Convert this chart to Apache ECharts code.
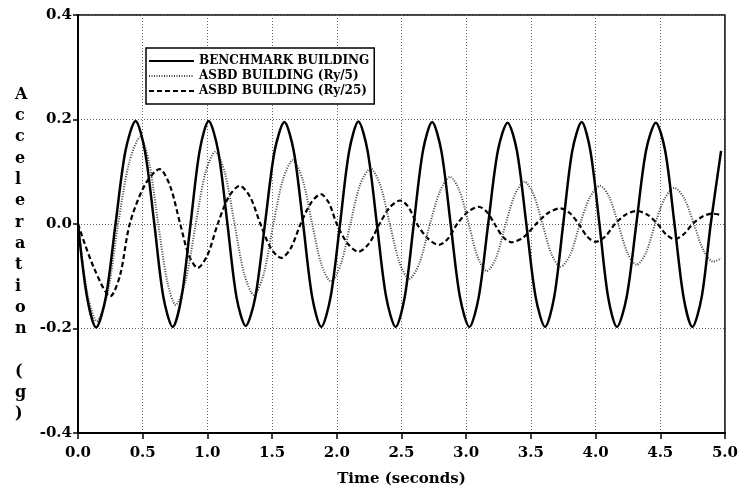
<!DOCTYPE html>
<html>
<head>
<meta charset="utf-8">
<script src="https://cdn.jsdelivr.net/npm/echarts@6/dist/echarts.min.js"></script>
<style>
html,body{margin:0;padding:0;background:#fff;}
#chart{width:741px;height:492px;}
</style>
</head>
<body>
<div id="chart"></div>
<script>
// ---- Data ----
var seriesNames = ['BENCHMARK BUILDING', 'ASBD BUILDING (Ry/5)', 'ASBD BUILDING (Ry/25)'];

var timeBench = [0, 0.07, 0.14, 0.215, 0.29, 0.367, 0.445, 0.517, 0.59, 0.66, 0.732, 0.80, 0.87, 0.94, 1.01, 1.083, 1.155, 1.225, 1.296, 1.37, 1.445, 1.52, 1.595, 1.667, 1.74, 1.81, 1.88, 1.952, 2.025, 2.096, 2.167, 2.238, 2.31, 2.382, 2.455, 2.525, 2.595, 2.666, 2.737, 2.808, 2.88, 2.952, 3.025, 3.097, 3.17, 3.245, 3.32, 3.392, 3.465, 3.537, 3.61, 3.68, 3.75, 3.82, 3.893, 3.96, 4.03, 4.097, 4.165, 4.24, 4.315, 4.39, 4.466, 4.538, 4.61, 4.68, 4.748, 4.82, 4.89, 4.97];
var accBench  = [0, -0.14, -0.198, -0.14, 0, 0.14, 0.197, 0.14, 0, -0.14, -0.197, -0.14, 0, 0.14, 0.197, 0.14, 0, -0.14, -0.195, -0.14, 0, 0.14, 0.195, 0.14, 0, -0.14, -0.197, -0.14, 0, 0.14, 0.196, 0.14, 0, -0.14, -0.197, -0.14, 0, 0.14, 0.195, 0.14, 0, -0.14, -0.197, -0.14, 0, 0.14, 0.194, 0.14, 0, -0.14, -0.197, -0.14, 0, 0.14, 0.195, 0.14, 0, -0.14, -0.197, -0.14, 0, 0.14, 0.194, 0.14, 0, -0.14, -0.197, -0.14, 0, 0.14];

var timeRy5 = [0, 0.07, 0.145, 0.23, 0.31, 0.395, 0.48, 0.55, 0.62, 0.69, 0.755, 0.83, 0.91, 0.985, 1.06, 1.135, 1.21, 1.285, 1.36, 1.435, 1.51, 1.585, 1.66, 1.735, 1.81, 1.882, 1.955, 2.03, 2.105, 2.18, 2.26, 2.335, 2.41, 2.485, 2.56, 2.64, 2.72, 2.8, 2.875, 2.948, 3.02, 3.09, 3.16, 3.232, 3.305, 3.378, 3.45, 3.52, 3.59, 3.66, 3.73, 3.805, 3.88, 3.958, 4.035, 4.105, 4.175, 4.246, 4.317, 4.39, 4.46, 4.535, 4.61, 4.685, 4.76, 4.835, 4.91, 4.97];
var accRy5  = [0, -0.13, -0.186, -0.13, 0, 0.117, 0.166, 0.117, 0, -0.11, -0.155, -0.11, 0, 0.098, 0.138, 0.098, 0, -0.096, -0.136, -0.096, 0, 0.086, 0.122, 0.086, 0, -0.078, -0.11, -0.078, 0, 0.075, 0.106, 0.075, 0, -0.074, -0.105, -0.074, 0, 0.064, 0.09, 0.064, 0, -0.064, -0.09, -0.064, 0, 0.057, 0.081, 0.057, 0, -0.058, -0.082, -0.058, 0, 0.052, 0.073, 0.052, 0, -0.055, -0.078, -0.055, 0, 0.049, 0.069, 0.049, 0, -0.051, -0.072, -0.066];

var timeRy25 = [0, 0.125, 0.25, 0.325, 0.4, 0.515, 0.63, 0.71, 0.79, 0.857, 0.925, 1.0, 1.08, 1.165, 1.25, 1.33, 1.41, 1.49, 1.57, 1.645, 1.72, 1.8, 1.877, 1.94, 2.0, 2.083, 2.167, 2.25, 2.33, 2.41, 2.49, 2.555, 2.62, 2.705, 2.79, 2.86, 2.93, 3.013, 3.097, 3.16, 3.22, 3.285, 3.35, 3.445, 3.54, 3.633, 3.726, 3.8, 3.87, 3.935, 4.0, 4.075, 4.15, 4.233, 4.317, 4.4, 4.48, 4.545, 4.61, 4.68, 4.75, 4.825, 4.9, 4.97];
var accRy25  = [0, -0.085, -0.138, -0.098, 0, 0.074, 0.105, 0.074, 0, -0.06, -0.084, -0.06, 0, 0.052, 0.073, 0.052, 0, -0.046, -0.065, -0.046, 0, 0.04, 0.057, 0.04, 0, -0.037, -0.053, -0.037, 0, 0.032, 0.045, 0.032, 0, -0.028, -0.04, -0.028, 0, 0.023, 0.033, 0.023, 0, -0.025, -0.035, -0.025, 0, 0.021, 0.03, 0.021, 0, -0.024, -0.034, -0.024, 0, 0.018, 0.025, 0.018, 0, -0.02, -0.029, -0.02, 0, 0.014, 0.02, 0.017];

var xTickLabels = ['0.0','0.5','1.0','1.5','2.0','2.5','3.0','3.5','4.0','4.5','5.0'];
var yTickLabels = ['-0.4','-0.2','0.0','0.2','0.4'];
var xTitle = 'Time (seconds)';
var yTitle = 'Acceleration (g)';

// ---- Build ----
function zip(a, b){ return a.map(function(v,i){ return [v, b[i]]; }); }
var FONT = '"DejaVu Serif", serif';

var chart = echarts.init(document.getElementById('chart'), null, {renderer:'canvas'});
var yTitleText = 'Acceleration'.split('').join('\n') + '\n\n' + '(g)'.split('').join('\n');

chart.setOption({
  backgroundColor: '#fff',
  animation: false,
  grid: {left: 78, right: 14, top: 15, bottom: 59, show: true, borderColor: '#000', borderWidth: 1.5, backgroundColor: 'transparent'},
  xAxis: {
    type: 'value', min: 0, max: 5, interval: 0.5,
    name: xTitle, nameLocation: 'middle', nameGap: 39,
    nameTextStyle: {fontFamily: FONT, fontWeight: 'bold', fontSize: 15, color: '#000'},
    axisLine: {show: true, onZero: false, lineStyle: {color: '#000', width: 2}},
    axisTick: {show: true, inside: false, length: 6, lineStyle: {color: '#000', width: 1.5}},
    axisLabel: {margin: 13, fontFamily: FONT, fontWeight: 'bold', fontSize: 15, color: '#000',
      formatter: function(v){ return xTickLabels[Math.round(v/0.5)]; }},
    splitLine: {show: true, lineStyle: {color: '#666', type: [1, 2], width: 1}}
  },
  yAxis: {
    type: 'value', min: -0.4, max: 0.4, interval: 0.2,
    axisLine: {show: true, onZero: false, lineStyle: {color: '#000', width: 2}},
    axisTick: {show: true, inside: false, length: 5, lineStyle: {color: '#000', width: 1.5}},
    axisLabel: {margin: 6, fontFamily: FONT, fontWeight: 'bold', fontSize: 15, color: '#000',
      formatter: function(v){ return yTickLabels[Math.round((v+0.4)/0.2)]; }},
    splitLine: {show: true, lineStyle: {color: '#666', type: [1, 2], width: 1}}
  },
  legend: {
    orient: 'vertical', left: 146, top: 48,
    padding: [7, 5, 7, 2], itemGap: 3, itemWidth: 45, itemHeight: 10.5,
    backgroundColor: '#fff', borderColor: '#000', borderWidth: 1.5,
    itemStyle: {color: 'rgba(0,0,0,0)', borderColor: 'rgba(0,0,0,0)', borderWidth: 0},
    textStyle: {fontFamily: FONT, fontWeight: 'bold', fontSize: 12, color: '#000'},
    data: seriesNames
  },
  graphic: [{
    type: 'text', left: 15, top: 84, z: 10,
    style: {text: yTitleText, font: 'bold 16px ' + FONT, lineHeight: 21.3, align: 'center', fill: '#000'}
  }],
  series: [
    {name: seriesNames[0], type: 'line', data: zip(timeBench, accBench), smooth: 0.3, symbol: 'none',
     itemStyle: {color: '#000'}, lineStyle: {color: '#000', width: 2.5, type: 'solid'}, z: 5},
    {name: seriesNames[1], type: 'line', data: zip(timeRy5, accRy5), smooth: 0.3, symbol: 'none',
     itemStyle: {color: '#444'}, lineStyle: {color: '#444', width: 2, type: [1, 1.5]}, z: 4},
    {name: seriesNames[2], type: 'line', data: zip(timeRy25, accRy25), smooth: 0.3, symbol: 'none',
     itemStyle: {color: '#000'}, lineStyle: {color: '#000', width: 2.2, type: [5, 3]}, z: 3}
  ]
});
</script>
</body>
</html>
